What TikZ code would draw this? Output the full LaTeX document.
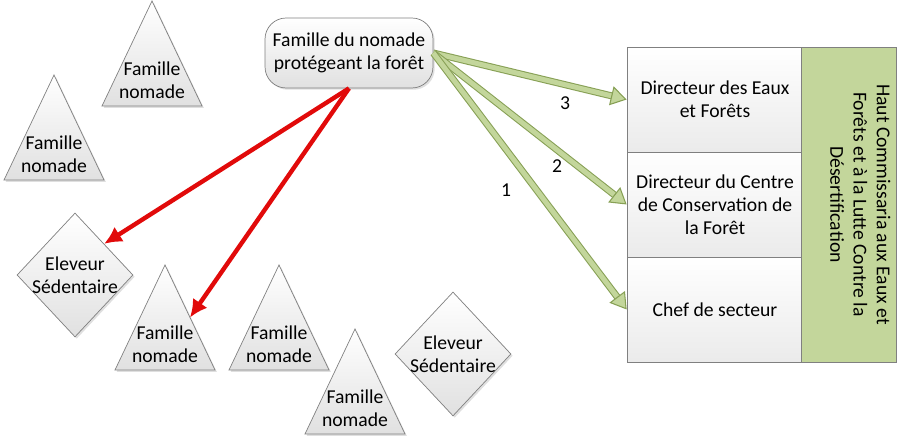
\documentclass[tikz,border=0pt]{standalone}
\usepackage{fontspec}
\setmainfont{Carlito}
\usetikzlibrary{arrows.meta,shapes.geometric,shadows}

\definecolor{oliveL}{RGB}{195,214,155}
\definecolor{oliveD}{RGB}{135,160,85}
\definecolor{redA}{RGB}{225,10,10}
\definecolor{edgeG}{RGB}{128,128,128}

\tikzset{
  lbl/.style={font=\fontsize{11.2}{13.2}\selectfont, align=center},
  shp/.style={draw=edgeG, line width=0.4pt, top color=white, bottom color=black!12,
    drop shadow={shadow xshift=1pt, shadow yshift=-1pt, opacity=0.25}},
  eleveur/.style={shp, lbl, shape=diamond, inner sep=-3pt, minimum width=2.32cm, minimum height=2.48cm},
  cell/.style={lbl, draw=edgeG, line width=0.4pt, top color=white, bottom color=black!8,
    minimum width=3.52cm, minimum height=2.1cm, inner sep=0pt},
  greenarrow/.style={draw=oliveD, line width=0.6pt, double=oliveL, double distance=2.8pt,
    -{Triangle[length=9pt, width=11pt, fill=oliveL, line width=0.6pt]}},
  redarrow/.style={draw=redA, line width=2.5pt, -{Latex[length=10pt, width=10pt]}}
}

% triangle: name, apex x, apex y
\newcommand\famille[3]{%
  \draw[shp] (#2,#3) -- ++(50,105) -- ++(-100,0) -- cycle;
  \node[lbl] (#1) at (#2,#3+79) {Famille\\nomade};
  \coordinate (#1-e) at (#2+25,#3+52.5);
}

\begin{document}
\begin{tikzpicture}[x=0.02cm, y=-0.02cm]
\useasboundingbox (0,0) rectangle (900,438);

% nomadic families and sedentary breeders
\famille{fam1}{152}{1}
\famille{fam2}{54}{75}
\famille{fam3}{165}{265}
\famille{fam4}{279}{265}
\famille{fam5}{355}{329}
\node[eleveur] (elev1) at (75,275) {Eleveur\\Sédentaire};
\node[eleveur] (elev2) at (453,354) {Eleveur\\Sédentaire};

\node[shp, lbl, rounded corners=12pt, minimum width=3.36cm, minimum height=1.4cm, inner sep=0pt]
  (protege) at (349,53) {Famille du nomade\\protégeant la forêt};

% administration
\node[cell] (dirEaux) at (715,99.5) {Directeur des Eaux\\et Forêts};
\node[cell] (dirCentre) at (715,204.5) {Directeur du Centre\\de Conservation de\\la Forêt};
\node[cell] (chefSect) at (715,309.5) {Chef de secteur};
\node[lbl, draw=edgeG, line width=0.4pt, fill=oliveL, rotate=-90, text depth=13pt,
  minimum width=6.3cm, minimum height=1.84cm]
  (haut) at (849,204.5) {Haut Commissaria aux Eaux et\\Forêts et à la Lutte Contre la\\Désertification};

% arrows
\draw[redarrow] (protege.south) -- (elev1.north east);
\draw[redarrow] (protege.south) -- (fam3-e);
\draw[greenarrow] (protege.east) -- (dirEaux.west);
\draw[greenarrow] (protege.east) -- (dirCentre.west);
\draw[greenarrow] (protege.east) -- (chefSect.west);
\node[lbl] (n3) at (565,103) {3};
\node[lbl] (n2) at (557,166) {2};
\node[lbl] (n1) at (506,190) {1};
\end{tikzpicture}
\end{document}
